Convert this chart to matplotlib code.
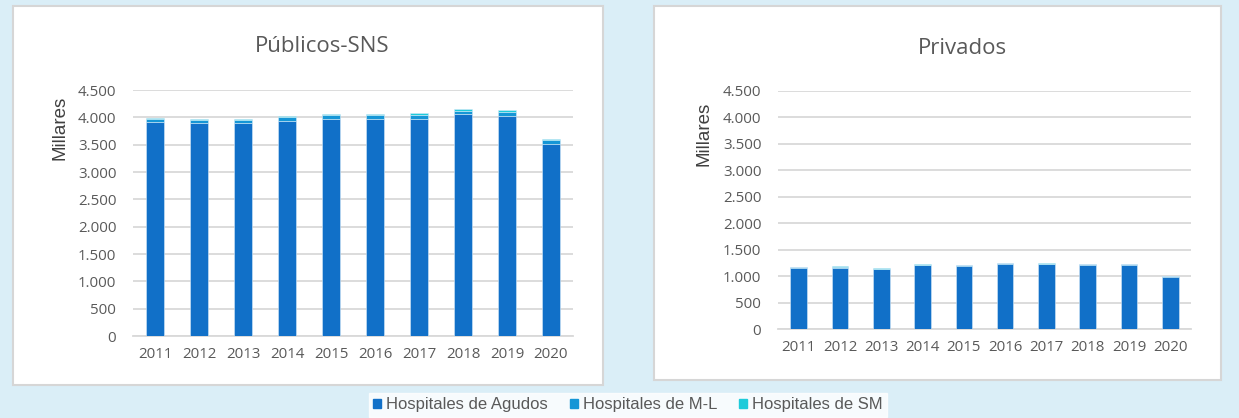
import matplotlib.pyplot as plt
from matplotlib.patches import Rectangle
import numpy as np

years = ["2011", "2012", "2013", "2014", "2015", "2016", "2017", "2018", "2019", "2020"]

# Públicos-SNS (miles)
pub_agudos = [3920, 3890, 3890, 3940, 3970, 3970, 3975, 4055, 4030, 3510]
pub_ml = [50, 55, 55, 60, 75, 75, 75, 65, 75, 80]
pub_sm = [20, 20, 20, 25, 25, 25, 25, 25, 25, 20]

# Privados (miles)
priv_agudos = [1163, 1165, 1132, 1208, 1195, 1238, 1225, 1220, 1220, 993]
priv_ml = [10, 10, 12, 12, 9, 10, 12, 9, 9, 9]
priv_sm = [9, 10, 13, 12, 9, 10, 13, 9, 9, 9]

series_names = ["Hospitales de Agudos", "Hospitales de M-L", "Hospitales de SM"]
colors = ["#1170C8", "#1596D6", "#1ECBDA"]
grey = "#595959"
bg = "#DAEEF7"

W, H = 1239, 418
fig = plt.figure(figsize=(W / 100, H / 100), dpi=100)
fig.patch.set_facecolor(bg)

# white panels
for x0, y0, x1, y1 in [(13, 6, 603, 385), (654, 6, 1221, 380)]:
    fig.patches.append(Rectangle((x0 / W, 1 - y1 / H), (x1 - x0) / W, (y1 - y0) / H,
                                 transform=fig.transFigure, facecolor="white",
                                 edgecolor="#D6D6D6", linewidth=1.5, zorder=-5))


def fmt(v):
    return f"{int(v):,}".replace(",", ".")


def draw(ax, agudos, ml, sm, label_xy):
    x = np.arange(len(years))
    bottom = np.zeros(len(years))
    for vals, c in zip([agudos, ml, sm], colors):
        ax.bar(x, vals, 0.4, bottom=bottom, color=c, edgecolor="#D5E9F8",
               linewidth=0.4, zorder=3)
        bottom += np.array(vals)
    ax.set_xlim(-0.5, len(years) - 0.5)
    ax.set_ylim(0, 4500)
    ax.set_yticks(range(0, 4501, 500))
    ax.set_yticklabels([fmt(v) for v in range(0, 4501, 500)])
    ax.set_xticks(x)
    ax.set_xticklabels(years)
    ax.grid(axis="y", color="#D9D9D9", linewidth=1.3, zorder=0)
    for s in ["top", "right", "left"]:
        ax.spines[s].set_visible(False)
    ax.spines["bottom"].set_color("#D9D9D9")
    ax.spines["bottom"].set_linewidth(1.3)
    ax.tick_params(length=0, colors=grey, labelsize=10.8)
    ax.tick_params(axis="y", pad=12)
    ax.tick_params(axis="x", pad=8)
    for lab in ax.get_xticklabels() + ax.get_yticklabels():
        lab.set_fontfamily("Open Sans")
    ax.set_ylabel("Millares", fontsize=13.5, color="#404040", family="Liberation Sans")
    ax.yaxis.set_label_coords(*label_xy)
    ax.set_facecolor("none")
    ax.set_zorder(1)


ax1 = fig.add_axes([133 / W, 1 - 336 / H, 440 / W, 246 / H])
draw(ax1, pub_agudos, pub_ml, pub_sm, ((69 - 133) / 440, (336 - 128) / 246))
ax2 = fig.add_axes([778 / W, 1 - 329.3 / H, 413 / W, 238.5 / H])
draw(ax2, priv_agudos, priv_ml, priv_sm, ((712 - 778) / 413, (329.3 - 134) / 238.5))

fig.text(322 / W, 1 - 47 / H, "Públicos-SNS", ha="center", va="center",
         fontsize=16, color=grey, family="Open Sans")
fig.text(962 / W, 1 - 48 / H, "Privados", ha="center", va="center",
         fontsize=16, color=grey, family="Open Sans")

handles = [Rectangle((0, 0), 1, 1, color=c) for c in colors]
leg = fig.legend(handles, series_names, loc="center", bbox_to_anchor=(628 / W, 1 - 405 / H),
                 ncol=3, frameon=True, fancybox=False, edgecolor="white",
                 handlelength=0.5, handleheight=0.5, handletextpad=0.3,
                 columnspacing=1.3, borderpad=0.25,
                 prop={"family": "Liberation Sans", "size": 12})
leg.set_zorder(2)
for t in leg.get_texts():
    t.set_color(grey)

fig.savefig("out.png", dpi=100, facecolor=bg)
